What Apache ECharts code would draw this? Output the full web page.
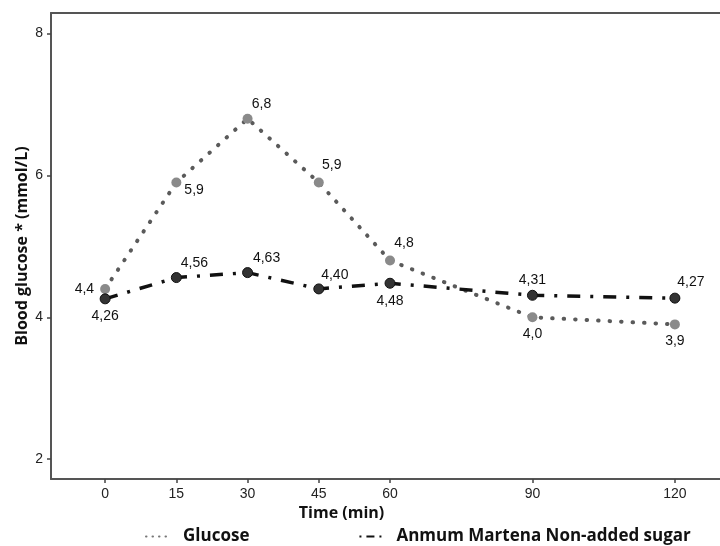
<!DOCTYPE html>
<html>
<head>
<meta charset="utf-8">
<script src="https://cdn.jsdelivr.net/npm/echarts@6/dist/echarts.min.js"></script>
<style>html,body{margin:0;padding:0;background:#fff}#c{width:720px;height:546px}</style>
</head>
<body>
<div id="c"></div>
<script>
const times = [0, 15, 30, 45, 60, 90, 120];
const glucose = [4.4, 5.9, 6.8, 5.9, 4.8, 4.0, 3.9];
const glucoseLabels = ['4,4', '5,9', '6,8', '5,9', '4,8', '4,0', '3,9'];
const anmum = [4.26, 4.56, 4.63, 4.40, 4.48, 4.31, 4.27];
const anmumLabels = ['4,26', '4,56', '4,63', '4,40', '4,48', '4,31', '4,27'];
const xTicks = [0, 15, 30, 45, 60, 90, 120];
const yTicks = [2, 4, 6, 8];
const seriesNames = ['Glucose', 'Anmum Martena Non-added sugar'];

// label placement (style only)
const gLabelPos = [
  {position: 'left', distance: 6, offset: [0, 0]},
  {position: 'right', distance: 3, offset: [0, 8]},
  {position: 'top', offset: [14, 2]},
  {position: 'top', offset: [13, 0]},
  {position: 'top', offset: [14, 0]},
  {position: 'bottom', offset: [0, 0]},
  {position: 'bottom', offset: [0, 0]}
];
const aLabelPos = [
  {position: 'bottom', offset: [0, 0]},
  {position: 'top', offset: [18, 3]},
  {position: 'top', offset: [19, 3]},
  {position: 'top', offset: [16, 4]},
  {position: 'bottom', offset: [0, 0]},
  {position: 'top', offset: [0, 2]},
  {position: 'top', offset: [16, 2]}
];

function build(vals, labels, pos) {
  return vals.map((v, i) => ({
    value: [times[i], v],
    label: Object.assign({formatter: labels[i]}, pos[i])
  }));
}

const labelFont = {show: true, fontFamily: 'Liberation Sans', fontSize: 14, color: '#111'};
const axisLineStyle = {color: '#555', width: 2};

const chart = echarts.init(document.getElementById('c'));
chart.setOption({
  animation: false,
  backgroundColor: '#fff',
  grid: {left: 51, right: 0, top: 13, bottom: 67},
  legend: {
    left: 140, top: 523,
    itemWidth: 26, itemHeight: 18, itemGap: 109,
    itemStyle: {opacity: 0},
    textStyle: {fontFamily: 'Open Sans', fontWeight: 'bold', fontSize: 17, color: '#111', padding: [0, 0, 0, 6]},
    data: [
      {name: seriesNames[0], lineStyle: {type: [0.5, 6], width: 2, cap: 'round', color: '#777'}},
      {name: seriesNames[1], lineStyle: {type: [2, 5, 8, 5], width: 2, color: '#111'}}
    ]
  },
  xAxis: [{
    type: 'value', min: -11.4, max: 129.5,
    splitLine: {show: false},
    axisLine: {show: true, onZero: false, lineStyle: axisLineStyle},
    axisTick: {show: true, length: 4, customValues: xTicks, lineStyle: {color: '#444', width: 1.5}},
    axisLabel: {customValues: xTicks, fontFamily: 'Liberation Sans', fontSize: 14, color: '#222', margin: 8},
    name: 'Time (min)', nameLocation: 'middle', nameGap: 26, nameMoveOverlap: false,
    nameTextStyle: {fontFamily: 'Open Sans', fontWeight: 'bold', fontSize: 16, color: '#111', padding: [0, 88, 0, 0]}
  }, {
    type: 'value', position: 'top', min: -11.4, max: 129.5,
    splitLine: {show: false}, axisTick: {show: false}, axisLabel: {show: false},
    axisLine: {show: true, onZero: false, lineStyle: axisLineStyle}
  }],
  yAxis: {
    type: 'value', min: 1.72, max: 8.29,
    splitLine: {show: false},
    axisLine: {show: true, onZero: false, lineStyle: axisLineStyle},
    axisTick: {show: true, length: 4, customValues: yTicks, lineStyle: {color: '#444', width: 1.5}},
    axisLabel: {customValues: yTicks, fontFamily: 'Liberation Sans', fontSize: 14, color: '#222', margin: 8},
    name: 'Blood glucose * (mmol/L)', nameLocation: 'middle', nameGap: 21, nameMoveOverlap: false,
    nameTextStyle: {fontFamily: 'Open Sans', fontWeight: 'bold', fontSize: 16, color: '#111'}
  },
  series: [{
    name: seriesNames[0], type: 'line',
    data: build(glucose, glucoseLabels, gLabelPos),
    symbol: 'circle', symbolSize: 10,
    itemStyle: {color: '#8a8a8a'},
    lineStyle: {color: '#5a5a5a', width: 4, type: [0.5, 11], cap: 'round'},
    label: labelFont, z: 2
  }, {
    name: seriesNames[1], type: 'line',
    data: build(anmum, anmumLabels, aLabelPos),
    symbol: 'circle', symbolSize: 10,
    itemStyle: {color: '#333', borderColor: '#111', borderWidth: 1},
    lineStyle: {color: '#111', width: 3.5, type: [13, 10, 3, 10]},
    label: labelFont, z: 3
  }]
});
</script>
</body>
</html>
